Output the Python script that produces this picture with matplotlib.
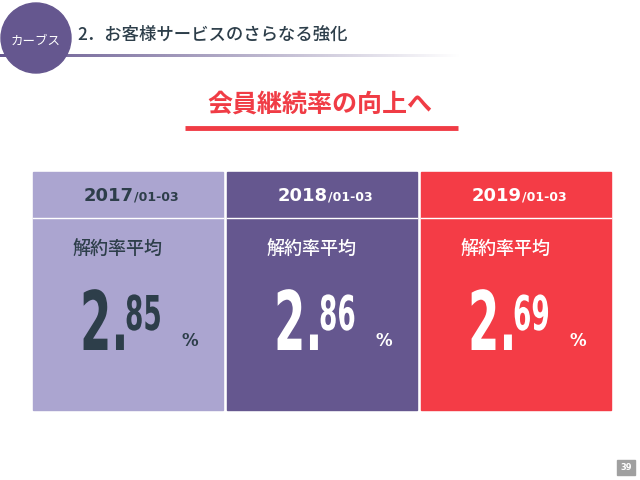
import numpy as np
import matplotlib.pyplot as plt
import matplotlib.patches as mpatches
from matplotlib.colors import LinearSegmentedColormap
from matplotlib.font_manager import FontProperties
from matplotlib.textpath import TextPath
from matplotlib.transforms import Affine2D

plt.rcParams['font.family'] = ['Noto Sans CJK JP', 'DejaVu Sans']

periods = ["2017", "2018", "2019"]
suffix = "/01-03"
rates = [2.85, 2.86, 2.69]
card_colors = ["#aba5d0", "#65578f", "#f43c46"]
text_colors = ["#2d3e4a", "white", "white"]

BOLD = FontProperties(family="DejaVu Sans", weight="bold")


def narrow_text(ax, s, x, y, size, color, squeeze=0.6):
    # texto comprimido horizontalmente (no hay fuente condensada)
    tp = TextPath((0, 0), s, size=1, prop=BOLD)
    tr = Affine2D().scale(size * squeeze, -size).translate(x, y)
    ax.add_patch(mpatches.PathPatch(tr.transform_path(tp), color=color, lw=0, zorder=3))


fig = plt.figure(figsize=(6.4, 4.8), dpi=100)
ax = fig.add_axes([0, 0, 1, 1])
ax.set_xlim(0, 640)
ax.set_ylim(480, 0)
ax.axis("off")

# cabecera
grad = np.linspace(0, 1, 256)[None, :]
cm = LinearSegmentedColormap.from_list("g", ["#65578f", "#ffffff"])
ax.imshow(grad, cmap=cm, extent=(0, 460, 57.5, 54.5), aspect="auto", zorder=1)
ax.add_patch(mpatches.Circle((36, 38), 35, color="#65578f", zorder=2))
ax.text(36, 41, "カーブス", color="white", fontsize=9, ha="center", va="center", zorder=3)
ax.text(77, 35, "2．お客様サービスのさらなる強化", color="#2d3e4a", fontsize=12.5,
        ha="left", va="center", fontweight="medium")

ax.text(320, 105, "会員継続率の向上へ", color="#f03c45", fontsize=18,
        ha="center", va="center", fontweight="bold")
ax.plot([185, 458], [128, 128], color="#f03c45", lw=3.5, solid_capstyle="butt")

x0 = 33
w = 190
for i, (p, r) in enumerate(zip(periods, rates)):
    x = x0 + i * 194
    tc = text_colors[i]
    ax.add_patch(mpatches.Rectangle((x, 172), w, 238, color=card_colors[i], zorder=1))
    ax.plot([x, x + w], [218, 218], color="white", lw=1, zorder=2)
    ax.text(x + w / 2 + 6, 196, p, color=tc, fontsize=13, fontweight="bold",
            ha="right", va="center", family="DejaVu Sans")
    ax.text(x + w / 2 + 6, 197, suffix, color=tc, fontsize=9, fontweight="bold",
            ha="left", va="center", family="DejaVu Sans")
    ax.text(x + 40, 250, "解約率平均", color=tc, fontsize=13, fontweight="medium",
            ha="left", va="center")
    whole, frac = f"{r:.2f}".split(".")
    narrow_text(ax, whole + ".", x + 47, 350, 82, tc, squeeze=0.55)
    narrow_text(ax, frac, x + 92, 330, 48, tc, squeeze=0.55)
    ax.text(x + 148, 346, "%", color=tc, fontsize=12, fontweight="bold",
            ha="left", va="baseline", family="DejaVu Sans")

ax.add_patch(mpatches.Rectangle((617, 460), 18, 15, color="#a0a0a0"))
ax.text(626, 468, "39", color="white", fontsize=6, fontweight="bold",
        ha="center", va="center", family="DejaVu Sans")

fig.savefig("out.png", dpi=100, facecolor="white")
